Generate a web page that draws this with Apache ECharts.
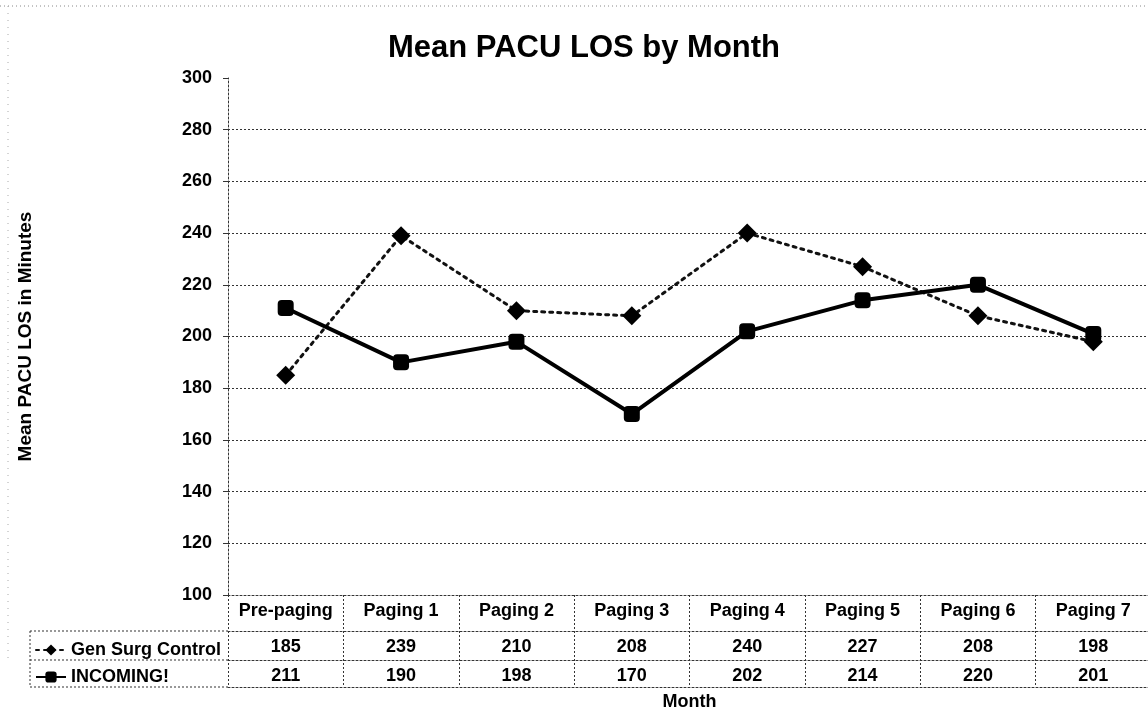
<!DOCTYPE html>
<html><head><meta charset="utf-8">
<script src="https://cdn.jsdelivr.net/npm/echarts@6/dist/echarts.min.js"></script>
<style>html,body{margin:0;padding:0;background:#fff}#c{width:1148px;height:714px}</style>
</head><body><div id="c"></div>
<script>
const titleText = 'Mean PACU LOS by Month';
const categories = ['Pre-paging','Paging 1','Paging 2','Paging 3','Paging 4','Paging 5','Paging 6','Paging 7'];
const genSurgControl = [185, 239, 210, 208, 240, 227, 208, 198];
const incoming = [211, 190, 198, 170, 202, 214, 220, 201];
const seriesNames = ['Gen Surg Control', 'INCOMING!'];
const yMin = 100, yMax = 300, yStep = 20;
const yAxisName = 'Mean PACU LOS in Minutes';
const xAxisName = 'Month';

const FONT = "'Liberation Sans', Arial, sans-serif";
const INK = '#000';
const LINE = '#333';
const dash = [2, 2];
const txt = (size) => ({ fontFamily: FONT, fontWeight: 'bold', fontSize: size, color: INK });

const chart = echarts.init(document.getElementById('c'), null, { renderer: 'canvas' });

const G = { left: 228, top: 78, width: 923, height: 517 };
const tableRows = [36, 65, 92]; // offsets of table lines below the plot

const catBase = {
  type: 'category', data: categories, gridIndex: 0, position: 'bottom', boundaryGap: true,
  axisLine: { show: true, onZero: false, lineStyle: { color: LINE, width: 1, type: dash } },
  axisTick: { show: false },
  splitLine: { show: false }
};

chart.setOption({
  backgroundColor: '#fff',
  animation: false,
  grid: { left: G.left, top: G.top, width: G.width, height: G.height, containLabel: false, outerBoundsMode: 'none' },
  legend: [
    { data: [seriesNames[0]], left: 35, top: 641, itemWidth: 30, itemHeight: 14, itemGap: 5, textStyle: txt(18), padding: 0, selectedMode: false },
    { data: [seriesNames[1]], left: 35, top: 668, itemWidth: 30, itemHeight: 14, itemGap: 5, textStyle: txt(18), padding: 0, selectedMode: false }
  ],
  xAxis: [
    Object.assign({}, catBase, {
      axisTick: { show: true, interval: 0, length: 92, lineStyle: { color: LINE, width: 1, type: dash } },
      axisLabel: Object.assign({ interval: 0, margin: 7 }, txt(18))
    }),
    Object.assign({}, catBase, {
      offset: tableRows[0],
      axisLabel: Object.assign({ interval: 0, margin: 7, formatter: (v, i) => String(genSurgControl[i]) }, txt(18))
    }),
    Object.assign({}, catBase, {
      offset: tableRows[1],
      axisLabel: Object.assign({ interval: 0, margin: 7, formatter: (v, i) => String(incoming[i]) }, txt(18))
    }),
    Object.assign({}, catBase, {
      offset: tableRows[2],
      axisLabel: { show: false },
      name: xAxisName, nameLocation: 'middle', nameGap: 6,
      nameTextStyle: txt(18)
    })
  ],
  yAxis: {
    type: 'value', min: yMin, max: yMax, interval: yStep,
    axisLine: { show: true, lineStyle: { color: LINE, width: 1, type: dash } },
    axisTick: { show: true, length: 5, lineStyle: { color: LINE } },
    axisLabel: Object.assign({ margin: 16 }, txt(18)),
    splitLine: { show: true, showMaxLine: false, lineStyle: { color: '#333', width: 1, type: dash } },
    name: yAxisName, nameLocation: 'middle', nameRotate: 90, nameGap: 193,
    nameTextStyle: txt(19)
  },
  series: [
    {
      name: seriesNames[0], type: 'line', data: genSurgControl, xAxisIndex: 0,
      symbol: 'diamond', symbolSize: 19,
      itemStyle: { color: '#000' },
      lineStyle: { color: '#111', width: 3, type: [3, 5], cap: 'round' },
      z: 3
    },
    {
      name: seriesNames[1], type: 'line', data: incoming, xAxisIndex: 0,
      symbol: 'roundRect', symbolSize: 16,
      itemStyle: { color: '#000' },
      lineStyle: { color: '#000', width: 4 },
      z: 4
    }
  ],
  graphic: [
    { type: 'text', x: 584, y: 48, style: { text: titleText, textAlign: 'center', textVerticalAlign: 'middle', fontFamily: FONT, fontWeight: 'bold', fontSize: 31, fill: INK } },
    { type: 'line', shape: { x1: 30, y1: 595 + tableRows[0], x2: G.left, y2: 595 + tableRows[0] }, style: { stroke: LINE, lineWidth: 1, lineDash: dash } },
    { type: 'line', shape: { x1: 30, y1: 595 + tableRows[1], x2: G.left, y2: 595 + tableRows[1] }, style: { stroke: LINE, lineWidth: 1, lineDash: dash } },
    { type: 'line', shape: { x1: 30, y1: 595 + tableRows[2], x2: G.left, y2: 595 + tableRows[2] }, style: { stroke: LINE, lineWidth: 1, lineDash: dash } },
    { type: 'line', shape: { x1: 30, y1: 595 + tableRows[0], x2: 30, y2: 595 + tableRows[2] }, style: { stroke: LINE, lineWidth: 1, lineDash: dash } },
    { type: 'line', shape: { x1: 0, y1: 6, x2: 1148, y2: 6 }, style: { stroke: '#888', lineWidth: 1, lineDash: [1, 3] } },
    { type: 'line', shape: { x1: 8, y1: 6, x2: 8, y2: 660 }, style: { stroke: '#aaa', lineWidth: 1, lineDash: [1, 6] } }
  ]
});
</script>
</body></html>
